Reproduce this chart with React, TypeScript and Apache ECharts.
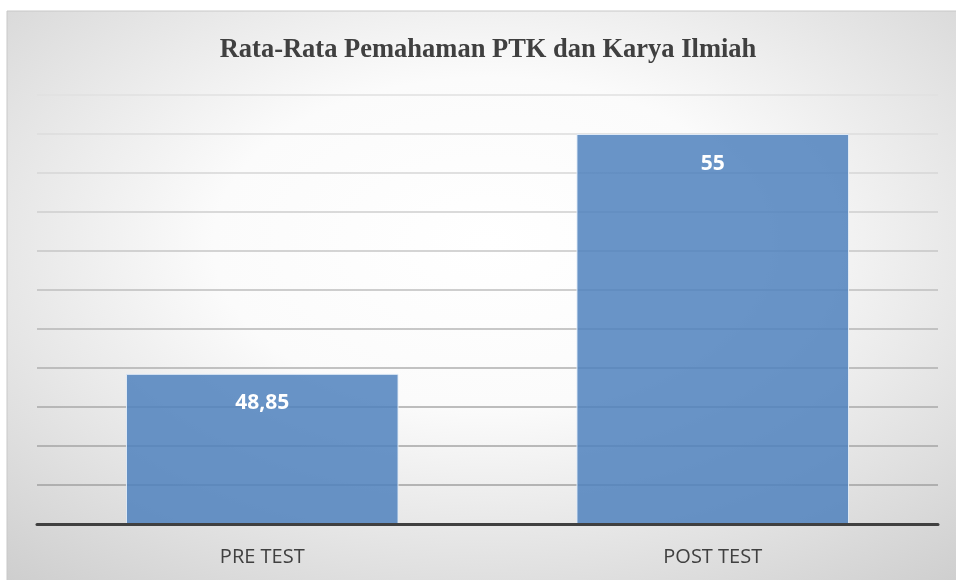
import React, { useEffect, useRef } from "react";
import * as echarts from "echarts";

const titleText = "Rata-Rata Pemahaman PTK dan Karya Ilmiah";
const categories = ["PRE TEST", "POST TEST"];
const values = [48.85, 55];
const axisMin = 45;
const axisMax = 56;
const axisInterval = 1;
const gridColors = [
  "#a0a0a0", "#a0a0a0", "#a4a4a4", "#a8a8a8", "#afafaf", "#b6b6b6",
  "#bebebe", "#c6c6c6", "#cecece", "#d6d6d6", "#dcdcdc", "#e0e0e0",
];

export default function App() {
  const ref = useRef<HTMLDivElement>(null);
  useEffect(() => {
    if (!ref.current) return;
    const chart = echarts.init(ref.current, undefined, { renderer: "svg" });
    chart.setOption({
      animation: false,
      graphic: [
        {
          type: "rect",
          z: -10,
          silent: true,
          shape: { x: 7, y: 11, width: 960, height: 580 },
          style: {
            fill: new echarts.graphic.RadialGradient(0.5, 0.4, 0.95, [
              { offset: 0, color: "#ffffff" },
              { offset: 0.3, color: "#fbfbfb" },
              { offset: 1, color: "#bdbdbd" },
            ]),
            stroke: "#c8c8c8",
            lineWidth: 1,
          },
        },
      ],
      title: {
        text: titleText,
        left: 483,
        textAlign: "center",
        top: 29,
        textStyle: {
          fontFamily: "Liberation Serif",
          fontWeight: "bold",
          fontSize: 26.5,
          color: "#404040",
        },
      },
      grid: { left: 37, right: 18, top: 95, bottom: 56, containLabel: false },
      xAxis: {
        type: "category",
        data: categories,
        axisLine: { show: true, lineStyle: { color: "#404040", width: 3 } },
        axisTick: { show: false },
        axisLabel: {
          margin: 21,
          fontFamily: "Open Sans",
          fontSize: 20,
          color: "#404040",
        },
        z: 5,
      },
      yAxis: {
        type: "value",
        min: axisMin,
        max: axisMax,
        interval: axisInterval,
        axisLine: { show: false },
        axisTick: { show: false },
        axisLabel: { show: false },
        splitLine: { show: true, lineStyle: { color: gridColors, width: 1.5 } },
      },
      series: [
        {
          type: "bar",
          data: values,
          barCategoryGap: "39.5%",
          itemStyle: {
            color: "rgba(79,129,189,0.85)",
            borderColor: "rgba(230,238,248,0.9)",
            borderWidth: 1,
          },
          label: {
            show: true,
            position: "insideTop",
            distance: 17,
            fontFamily: "Open Sans",
            fontWeight: "bold",
            fontSize: 21,
            color: "#ffffff",
            formatter: (p: any) => String(p.value).replace(".", ","),
          },
        },
      ],
    });
    return () => chart.dispose();
  }, []);
  return (
    <div
      ref={ref}
      style={{ position: "fixed", left: 0, top: 0, width: 956, height: 580 }}
    />
  );
}
